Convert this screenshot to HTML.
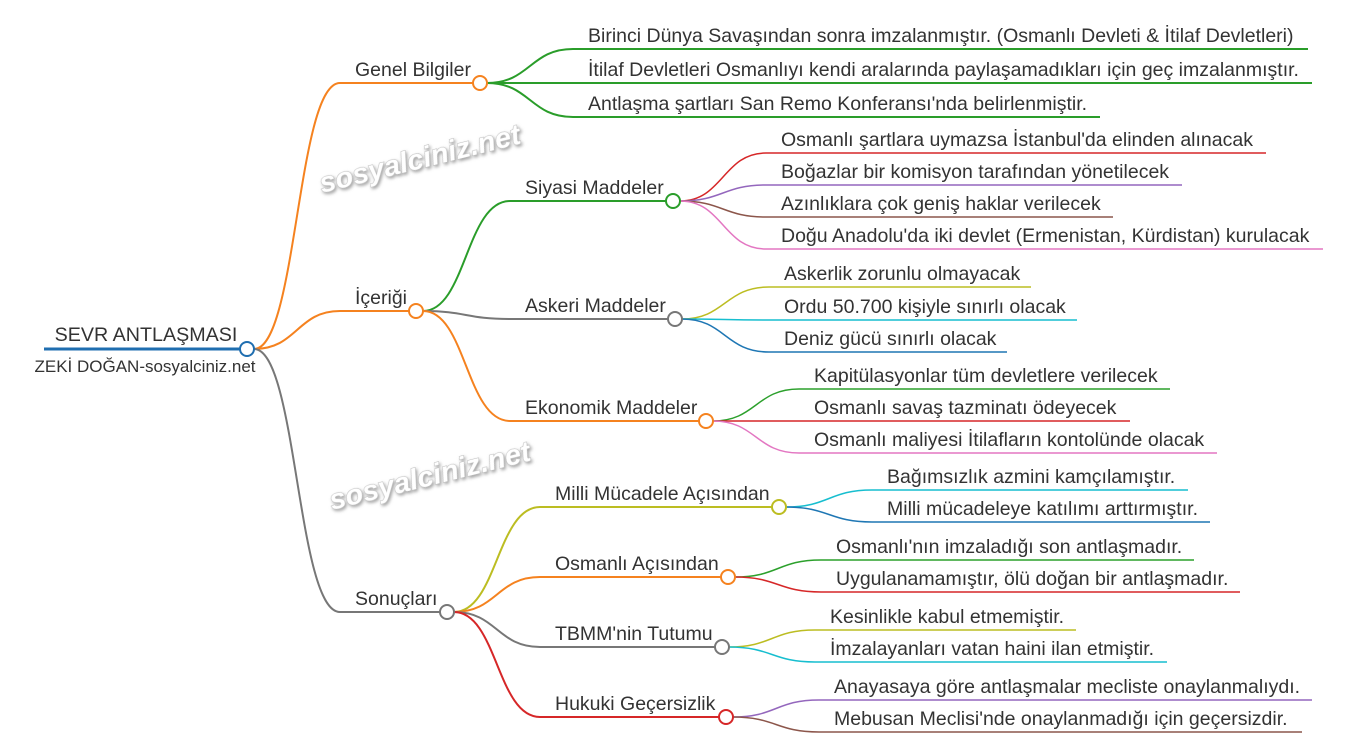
<!DOCTYPE html>
<html><head><meta charset="utf-8">
<style>
html,body{margin:0;padding:0;background:#fff;}
svg{display:block;font-family:"Liberation Sans",Arial,sans-serif;}
text{fill:#333;font-size:19.5px;}
.wm{font-size:29px;font-weight:bold;font-style:italic;fill:#fff;stroke:#bbb;stroke-width:1;paint-order:stroke;}
</style></head><body>
<svg width="1364" height="752" viewBox="0 0 1364 752" xmlns="http://www.w3.org/2000/svg">
<defs><filter id="sh" x="-10%" y="-30%" width="120%" height="160%"><feDropShadow dx="1" dy="2" stdDeviation="1.5" flood-color="#777" flood-opacity="0.7"/></filter></defs>
<g fill="none" stroke-width="2">
<line x1="44" y1="349" x2="240" y2="349" stroke="#1f6eb0" stroke-width="3"/>
<path d="M254 349 C297 349 297 83 340 83 L473 83" stroke="#f5821f"/>
<path d="M254 349 C297 349 297 311 340 311 L409 311" stroke="#f5821f"/>
<path d="M254 349 C297 349 297 612 340 612 L440 612" stroke="#777"/>
<path d="M487 83 C530 83 530 49 573 49 L1308 49" stroke="#2a9d2a"/>
<path d="M487 83 L1312 83" stroke="#2a9d2a"/>
<path d="M487 83 C530 83 530 117 573 117 L1100 117" stroke="#2a9d2a"/>
<path d="M423 311 C466 311 466 201 510 201 L666 201" stroke="#2a9d2a"/>
<path d="M423 311 C466 311 466 319 510 319 L668 319" stroke="#777"/>
<path d="M423 311 C466 311 466 421 510 421 L699 421" stroke="#f5821f"/>
<path d="M680 201 C723 201 723 153 766 153 L1266 153" stroke="#d62728" stroke-width="1.5"/>
<path d="M680 201 C723 201 723 185 766 185 L1182 185" stroke="#9467bd" stroke-width="1.5"/>
<path d="M680 201 C723 201 723 217 766 217 L1113 217" stroke="#8c564b" stroke-width="1.5"/>
<path d="M680 201 C723 201 723 249 766 249 L1323 249" stroke="#e377c2" stroke-width="1.5"/>
<path d="M682 319 C725 319 725 287 769 287 L1031 287" stroke="#bcbd22" stroke-width="1.5"/>
<path d="M682 319 C725 319 725 320 769 320 L1077 320" stroke="#17becf" stroke-width="1.5"/>
<path d="M682 319 C725 319 725 352 769 352 L1007 352" stroke="#1f77b4" stroke-width="1.5"/>
<path d="M713 421 C756 421 756 389 799 389 L1170 389" stroke="#2ca02c" stroke-width="1.5"/>
<path d="M713 421 L1130 421" stroke="#d62728" stroke-width="1.5"/>
<path d="M713 421 C756 421 756 453 799 453 L1217 453" stroke="#e377c2" stroke-width="1.5"/>
<path d="M454 612 C497 612 497 507 540 507 L772 507" stroke="#bcbd22"/>
<path d="M454 612 C497 612 497 577 540 577 L721 577" stroke="#f5821f"/>
<path d="M454 612 C497 612 497 647 540 647 L715 647" stroke="#777"/>
<path d="M454 612 C497 612 497 717 540 717 L719 717" stroke="#d62728"/>
<path d="M786 507 C829 507 829 490 872 490 L1188 490" stroke="#17becf" stroke-width="1.5"/>
<path d="M786 507 C829 507 829 522 872 522 L1210 522" stroke="#1f77b4" stroke-width="1.5"/>
<path d="M735 577 C778 577 778 560 821 560 L1194 560" stroke="#2ca02c" stroke-width="1.5"/>
<path d="M735 577 C778 577 778 592 821 592 L1240 592" stroke="#d62728" stroke-width="1.5"/>
<path d="M729 647 C772 647 772 630 815 630 L1076 630" stroke="#bcbd22" stroke-width="1.5"/>
<path d="M729 647 C772 647 772 662 815 662 L1167 662" stroke="#17becf" stroke-width="1.5"/>
<path d="M733 717 C776 717 776 700 819 700 L1312 700" stroke="#9467bd" stroke-width="1.5"/>
<path d="M733 717 C776 717 776 732 819 732 L1302 732" stroke="#8c564b" stroke-width="1.5"/>
</g>
<g fill="#fff" stroke-width="2">
<circle cx="247" cy="349" r="7" stroke="#1f6eb0"/>
<circle cx="480" cy="83" r="7" stroke="#f5821f"/>
<circle cx="416" cy="311" r="7" stroke="#f5821f"/>
<circle cx="447" cy="612" r="7" stroke="#777"/>
<circle cx="673" cy="201" r="7" stroke="#2a9d2a"/>
<circle cx="675" cy="319" r="7" stroke="#777"/>
<circle cx="706" cy="421" r="7" stroke="#f5821f"/>
<circle cx="779" cy="507" r="7" stroke="#bcbd22"/>
<circle cx="728" cy="577" r="7" stroke="#f5821f"/>
<circle cx="722" cy="647" r="7" stroke="#777"/>
<circle cx="726" cy="717" r="7" stroke="#d62728"/>
</g>
<text x="146" y="341" text-anchor="middle" style="font-size:19.7px">SEVR ANTLAŞMASI</text>
<text x="145" y="372" text-anchor="middle" style="font-size:17px">ZEKİ DOĞAN-sosyalciniz.net</text>
<text x="355" y="76">Genel Bilgiler</text>
<text x="355" y="304">İçeriği</text>
<text x="355" y="605">Sonuçları</text>
<text x="525" y="194">Siyasi Maddeler</text>
<text x="525" y="312">Askeri Maddeler</text>
<text x="525" y="414">Ekonomik Maddeler</text>
<text x="555" y="500">Milli Mücadele Açısından</text>
<text x="555" y="570">Osmanlı Açısından</text>
<text x="555" y="640">TBMM'nin Tutumu</text>
<text x="555" y="710">Hukuki Geçersizlik</text>
<text x="588" y="42">Birinci Dünya Savaşından sonra imzalanmıştır. (Osmanlı Devleti &amp; İtilaf Devletleri)</text>
<text x="588" y="76">İtilaf Devletleri Osmanlıyı kendi aralarında paylaşamadıkları için geç imzalanmıştır.</text>
<text x="588" y="110">Antlaşma şartları San Remo Konferansı'nda belirlenmiştir.</text>
<text x="781" y="146">Osmanlı şartlara uymazsa İstanbul'da elinden alınacak</text>
<text x="781" y="178">Boğazlar bir komisyon tarafından yönetilecek</text>
<text x="781" y="210">Azınlıklara çok geniş haklar verilecek</text>
<text x="781" y="242">Doğu Anadolu'da iki devlet (Ermenistan, Kürdistan) kurulacak</text>
<text x="784" y="280">Askerlik zorunlu olmayacak</text>
<text x="784" y="313">Ordu 50.700 kişiyle sınırlı olacak</text>
<text x="784" y="345">Deniz gücü sınırlı olacak</text>
<text x="814" y="382">Kapitülasyonlar tüm devletlere verilecek</text>
<text x="814" y="414">Osmanlı savaş tazminatı ödeyecek</text>
<text x="814" y="446">Osmanlı maliyesi İtilafların kontolünde olacak</text>
<text x="887" y="483">Bağımsızlık azmini kamçılamıştır.</text>
<text x="887" y="515">Milli mücadeleye katılımı arttırmıştır.</text>
<text x="836" y="553">Osmanlı'nın imzaladığı son antlaşmadır.</text>
<text x="836" y="585">Uygulanamamıştır, ölü doğan bir antlaşmadır.</text>
<text x="830" y="623">Kesinlikle kabul etmemiştir.</text>
<text x="830" y="655">İmzalayanları vatan haini ilan etmiştir.</text>
<text x="834" y="693">Anayasaya göre antlaşmalar mecliste onaylanmalıydı.</text>
<text x="834" y="725">Mebusan Meclisi'nde onaylanmadığı için geçersizdir.</text>
<text class="wm" filter="url(#sh)" transform="translate(322,193) rotate(-14)">sosyalciniz.net</text>
<text class="wm" filter="url(#sh)" transform="translate(332,510) rotate(-14)">sosyalciniz.net</text>
</svg>
</body></html>
